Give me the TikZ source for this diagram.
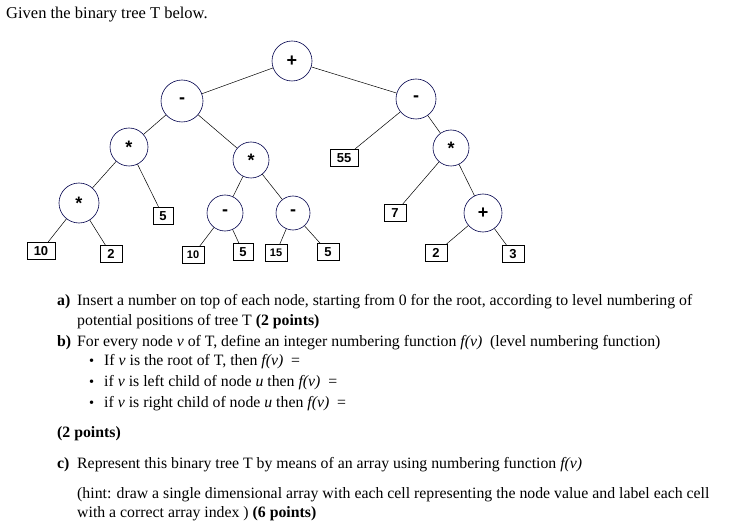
\documentclass[tikz,border=0pt]{standalone}
\usepackage{fontspec}
\setmainfont{Liberation Serif}
\newfontfamily\arialf{Liberation Sans}
\begin{document}
\begin{tikzpicture}[x=1pt,y=-1pt,
 op/.style={circle,draw=black!70!blue,line width=0.6pt,minimum size=#1,inner sep=0pt,font=\arialf\bfseries\fontsize{18}{18}\selectfont},
 lf/.style={draw,line width=0.9pt,minimum height=17pt,minimum width=#1,inner sep=0pt,font=\arialf\bfseries\fontsize{13}{13}\selectfont},
 ed/.style={line width=0.5pt},
 tx/.style={anchor=base west,inner sep=0pt,font=\fontsize{15.8}{18}\selectfont}]
\useasboundingbox (0,0) rectangle (743,529);
\node[op=40pt] (r) at (292,61) {+};
\node[op=42pt] (m1) at (182,101) {-};
\node[op=38pt] (s1) at (129,147) {*};
\node[op=40pt] (s2) at (79,203) {*};
\node[op=36pt] (s3) at (251,160) {*};
\node[op=36pt] (m2) at (225,213) {-};
\node[op=34pt] (m3) at (293,213) {-};
\node[op=40pt] (m4) at (416,99) {-};
\node[op=36pt] (s4) at (451,148) {*};
\node[op=38pt] (p2) at (483,213) {+};
\node[lf=28pt] (a) at (41,251) {10};
\node[lf=22pt] (b) at (111,254) {2};
\node[lf=20pt] (c) at (163,216) {5};
\node[lf=22pt] (d) at (193,255) {\fontsize{11}{11}\selectfont 10};
\node[lf=20pt] (e) at (243,252) {5};
\node[lf=22pt] (f) at (276,253) {\fontsize{11}{11}\selectfont 15};
\node[lf=22pt] (g) at (328,252) {5};
\node[lf=28pt] (h) at (344,158) {55};
\node[lf=22pt] (i) at (395,213) {7};
\node[lf=22pt] (j) at (436,253) {2};
\node[lf=22pt] (k) at (513,254) {3};
\draw[ed] (r)--(m1); \draw[ed] (r)--(m4);
\draw[ed] (m1)--(s1); \draw[ed] (m1)--(s3);
\draw[ed] (s1)--(s2); \draw[ed] (s1)--(c);
\draw[ed] (s2)--(a); \draw[ed] (s2)--(b);
\draw[ed] (s3)--(m2); \draw[ed] (s3)--(m3);
\draw[ed] (m2)--(d); \draw[ed] (m2)--(e);
\draw[ed] (m3)--(f); \draw[ed] (m3)--(g);
\draw[ed] (m4)--(h); \draw[ed] (m4)--(s4);
\draw[ed] (s4)--(i); \draw[ed] (s4)--(p2);
\draw[ed] (p2)--(j); \draw[ed] (p2)--(k);
\node[tx,font=\fontsize{16.5}{18}\selectfont] (t0) at (6,19) {Given the binary tree T below.};
\node[tx] (la) at (57,305) {\textbf{a)}};
\node[tx] (ta) at (77,305) {Insert a number on top of each node, starting from 0 for the root, according to level numbering of};
\node[tx] (ta2) at (77,325) {potential positions of tree T \textbf{(2 points)}};
\node[tx] (lb) at (57,346) {\textbf{b)}};
\node[tx] (tb) at (77,346) {For every node \textit{v} of T, define an integer numbering function \textit{f(v)}\ \ (level numbering function)};
\node[tx] (b1) at (89,365) {\Large\textbullet};
\node[tx] (tb1) at (104,365) {If \textit{v} is the root of T, then \textit{f(v)}\ \ =};
\node[tx] (b2) at (89,386) {\Large\textbullet};
\node[tx] (tb2) at (104,386) {if \textit{v} is left child of node \textit{u} then \textit{f(v)}\ \ =};
\node[tx] (b3) at (89,407) {\Large\textbullet};
\node[tx] (tb3) at (104,407) {if \textit{v} is right child of node \textit{u} then \textit{f(v)}\ \ =};
\node[tx] (tp) at (57,437) {\textbf{(2 points)}};
\node[tx] (lc) at (57,468) {\textbf{c)}};
\node[tx] (tc) at (77,468) {Represent this binary tree T by means of an array using numbering function \textit{f(v)}};
\node[tx] (th) at (77,498) {(hint: draw a single dimensional array with each cell representing the node value and label each cell};
\node[tx] (th2) at (77,517) {with a correct array index ) \textbf{(6 points)}};
\end{tikzpicture}
\end{document}
